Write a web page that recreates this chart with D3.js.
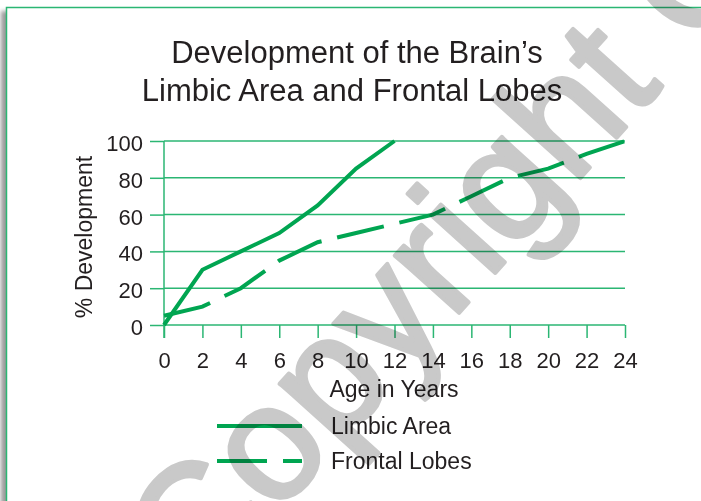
<!DOCTYPE html>
<html lang="en">
<head>
	<meta charset="UTF-8"/>
	<title>Brain Development</title>
	<script src="https://d3js.org/d3.v7.min.js"></script>
	<style>
		body { margin: 0; background-color: white; }
		text { font-family: "Liberation Sans", Arial, Helvetica, sans-serif; fill: #231f20; }
		.grid { stroke: #2bb673; stroke-width: 1.5; }
		.axis line { stroke: #2bb673; stroke-width: 1.5; }
		.axis text { font-size: 22px; fill: #231f20; }
		.series { fill: none; stroke: #00a551; stroke-width: 4; }
		.watermark { font-size: 163px; fill: #c9c9c9; stroke: #c9c9c9; stroke-width: 4; stroke-linejoin: round; mix-blend-mode: multiply; }
	</style>
</head>
<body>
	<div id="chart"></div>

	<script>
	// data
	var ages     = [0, 2, 4, 6, 8, 10, 12, 14, 16, 18, 20, 22, 24];
	var limbic   = [0, 30, 40, 50, 65, 85, 100];
	var frontal  = [5, 10, 20, 35, 45, 50, 55, 60, 70, 80, 85, 93, 100];
	var yTicks   = [0, 20, 40, 60, 80, 100];
	var titleLines = ["Development of the Brain\u2019s", "Limbic Area and Frontal Lobes"];
	var seriesNames = ["Limbic Area", "Frontal Lobes"];

	var w = 701, h = 501;
	var margin = {top: 141, left: 164, right: 76, bottom: 176};

	var svg = d3.select("#chart")
				.append("svg")
				.attr("width", w)
				.attr("height", h);

	// frame + shadow
	var defs = svg.append("defs");
	defs.append("filter").attr("id", "blur")
		.append("feGaussianBlur").attr("stdDeviation", 2);

	svg.append("rect")
		.attr("x", 1).attr("y", 11)
		.attr("width", 12).attr("height", 520)
		.attr("fill", "#9a9a9a")
		.attr("filter", "url(#blur)");

	svg.append("rect")
		.attr("x", 6.5).attr("y", 7.5)
		.attr("width", 720).attr("height", 520)
		.attr("fill", "white")
		.attr("stroke", "#2bb673")
		.attr("stroke-width", 1.5);

	var xScale = d3.scaleLinear()
				.domain([0, 24])
				.range([margin.left, w - margin.right]);

	var yScale = d3.scaleLinear()
				.domain([0, 100])
				.range([h - margin.bottom, margin.top]);

	// title
	svg.append("text")
		.attr("text-anchor", "middle")
		.style("font-size", "31px")
		.selectAll("tspan")
		.data(titleLines)
		.enter()
		.append("tspan")
		.attr("x", function(d, i){ return i == 0 ? 357 : 352; })
		.attr("y", function(d, i){ return 63 + i * 38; })
		.text(function(d){ return d; });

	// gridlines
	svg.selectAll(".grid")
		.data(yTicks)
		.enter()
		.append("line")
		.attr("class", "grid")
		.attr("x1", xScale(0))
		.attr("x2", xScale(24))
		.attr("y1", function(d){ return yScale(d); })
		.attr("y2", function(d){ return yScale(d); });

	var yAxis = d3.axisLeft(yScale)
				.tickValues(yTicks)
				.tickSize(14)
				.tickPadding(7);

	var xAxis = d3.axisBottom(xScale)
				.tickValues(ages)
				.tickSize(13)
				.tickPadding(14);

	svg.append("g")
		.attr("class", "axis")
		.attr("transform", "translate(" + margin.left + ",0)")
		.call(yAxis)
		.call(function(g){ g.select(".domain").remove(); })
		.selectAll("text")
		.attr("dy", "0.43em");

	svg.append("g")
		.attr("class", "axis")
		.attr("transform", "translate(0," + yScale(0) + ")")
		.call(xAxis)
		.call(function(g){ g.select(".domain").remove(); });

	// y axis line, runs down to the tick ends
	svg.append("line")
		.attr("class", "grid")
		.attr("x1", xScale(0)).attr("x2", xScale(0))
		.attr("y1", yScale(100)).attr("y2", yScale(0) + 13);

	// axis titles
	svg.append("text")
		.attr("x", 394)
		.attr("y", 397)
		.attr("text-anchor", "middle")
		.style("font-size", "23px")
		.text("Age in Years");

	svg.append("text")
		.attr("transform", "translate(92,237) rotate(-90)")
		.attr("text-anchor", "middle")
		.style("font-size", "23px")
		.text("% Development");

	// lines
	var line = d3.line()
				.x(function(d, i){ return xScale(ages[i]); })
				.y(function(d){ return yScale(d); });

	svg.append("path")
		.datum(limbic)
		.attr("class", "series")
		.attr("d", line);

	svg.append("path")
		.datum(frontal)
		.attr("class", "series")
		.attr("stroke-dasharray", "48,16")
		.attr("d", line);

	// legend
	var legend = svg.selectAll(".legend")
				.data(seriesNames)
				.enter()
				.append("g")
				.attr("class", "legend")
				.attr("transform", function(d, i){ return "translate(0," + (426 + i * 35) + ")"; });

	legend.append("line")
		.attr("class", "series")
		.attr("x1", 217).attr("x2", 302)
		.attr("y1", 0).attr("y2", 0)
		.attr("stroke-dasharray", function(d, i){ return i == 0 ? null : "50,16"; });

	legend.append("text")
		.attr("x", 331)
		.attr("y", 8)
		.style("font-size", "23px")
		.text(function(d){ return d; });

	// watermark
	svg.append("text")
		.attr("class", "watermark")
		.attr("transform", "translate(197,604) rotate(-48)")
		.text("Copyright C");
	</script>
</body>
</html>
